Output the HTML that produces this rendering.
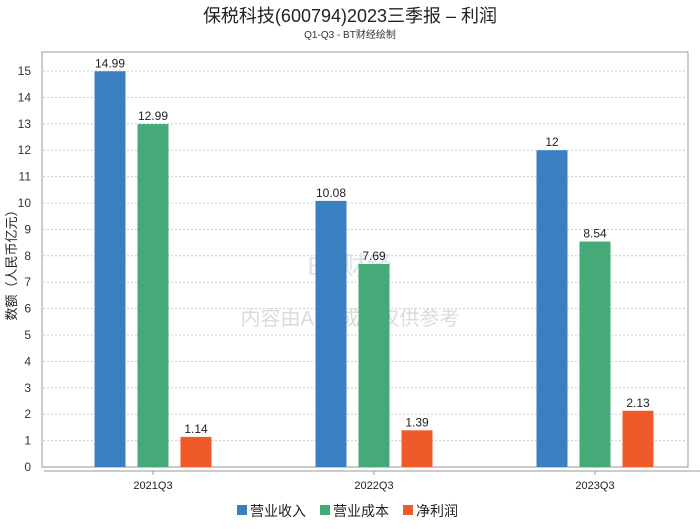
<!DOCTYPE html>
<html><head><meta charset="utf-8"><style>
body{margin:0;background:#fff;width:700px;height:524px;overflow:hidden;font-family:"Liberation Sans","Noto Sans CJK SC",sans-serif}
</style></head><body>
<svg id="c" width="700" height="524" style="font-family:'Liberation Sans','Noto Sans CJK SC',sans-serif">
<text x="350" y="22" text-anchor="middle" font-size="18" fill="#222">保税科技(600794)2023三季报 – 利润</text>
<text x="350" y="38" text-anchor="middle" font-size="10" fill="#333">Q1-Q3 - BT财经绘制</text>
<rect x="42" y="52" width="646" height="415" fill="none" stroke="#999"/>
<line x1="44" y1="471" x2="700" y2="471" stroke="#999"/>
<text transform="translate(16,262) rotate(-90)" text-anchor="middle" font-size="13" fill="#222">数额（人民币亿元）</text>
<text x="350" y="275" text-anchor="middle" font-size="26" fill="#ccd3dc" opacity="0.6">BT财经</text>
<text x="350" y="325" text-anchor="middle" font-size="20" fill="#ccc" opacity="0.7">内容由AI生成，仅供参考</text>
<g id="g"></g>
<g font-size="14" fill="#222">
<rect x="237" y="505" width="10" height="10" fill="#3a7fc0"/><text x="250" y="516">营业收入</text>
<rect x="320" y="505" width="10" height="10" fill="#45a978"/><text x="333" y="516">营业成本</text>
<rect x="403" y="505" width="10" height="10" fill="#f05a28"/><text x="416" y="516">净利润</text>
</g>
</svg>
<script>
const categories=["2021Q3","2022Q3","2023Q3"];
const revenue=[14.99,10.08,12];
const cost=[12.99,7.69,8.54];
const netProfit=[1.14,1.39,2.13];
const yTicks=[0,1,2,3,4,5,6,7,8,9,10,11,12,13,14,15];
const NS="http://www.w3.org/2000/svg";
const g=document.getElementById('g');
const y=v=>467-v*26.4;
const xc=i=>153+i*221;
function mk(t,a){const e=document.createElementNS(NS,t);for(const k in a)e.setAttribute(k,a[k]);g.appendChild(e);return e;}
yTicks.forEach(v=>{
 if(v>0){const l=mk('line',{x1:43,x2:687,y1:y(v),y2:y(v),stroke:'#ccc','stroke-dasharray':'2,2'});
 
 }
 const t=mk('text',{x:31,y:y(v)+4,'text-anchor':'end','font-size':12,fill:'#333'});t.textContent=v;
 
 
});
const series=[[revenue,'#3a7fc0',-43,'bar-revenue'],[cost,'#45a978',0,'bar-cost'],[netProfit,'#f05a28',43,'bar-net-profit']];
categories.forEach((c,i)=>{
 const t=mk('text',{x:xc(i),y:489,'text-anchor':'middle','font-size':11,fill:'#222'});t.textContent=c;
 
 
 mk('line',{x1:xc(i),x2:xc(i),y1:471,y2:475,stroke:'#999'});
 series.forEach(([arr,col,off,nm])=>{
  const v=arr[i],cx=xc(i)+off;
  const r=mk('rect',{x:cx-15.5,y:y(v),width:31,height:467-y(v),fill:col});
  
  
  const l=mk('text',{x:cx,y:y(v)-4,'text-anchor':'middle','font-size':12,fill:'#222'});l.textContent=v;
  
  
 });
});
</script>
</body></html>
